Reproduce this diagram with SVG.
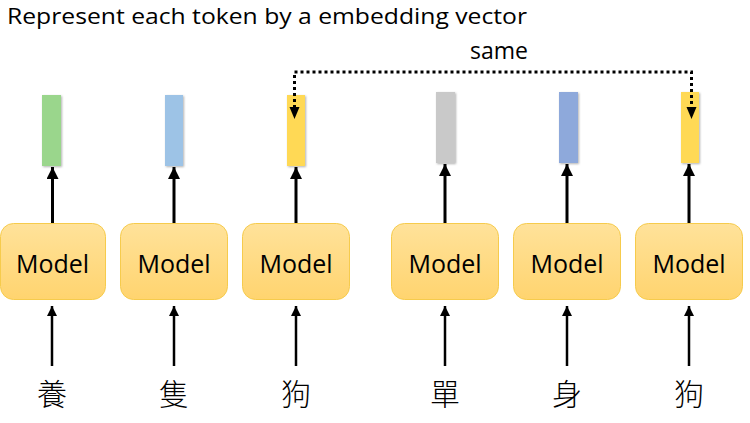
<svg xmlns="http://www.w3.org/2000/svg" width="750" height="423" viewBox="0 0 750 423">
<style>
.title{font-family:"Open Sans","Liberation Sans",sans-serif;font-size:22.5px;fill:#000}
.lbl{font-family:"Open Sans","Liberation Sans",sans-serif;font-size:23px;fill:#000;text-anchor:middle}
.box{fill:url(#g);stroke:#F6CB4C;stroke-width:1}
.mtext{font-family:"Open Sans","Liberation Sans",sans-serif;font-size:25px;fill:#000;text-anchor:middle}
.cjk{font-family:"Noto Sans CJK TC","Noto Sans CJK SC",sans-serif;font-size:30px;font-weight:300;fill:#000;text-anchor:middle}
.arr{stroke:#000;stroke-width:3;fill:none;marker-end:url(#ah)}
.arr2{stroke:#000;stroke-width:2.5;fill:none;marker-end:url(#ah)}
.dot{stroke:#000;stroke-width:3;fill:none;stroke-dasharray:3 3}
.vec{filter:url(#sh)}
</style>
<defs>
<linearGradient id="g" x1="0" y1="0" x2="0" y2="1">
<stop offset="0" stop-color="#FFE29A"/>
<stop offset="1" stop-color="#FFD46F"/>
</linearGradient>
<marker id="ah" viewBox="0 0 10 10" refX="10" refY="5" markerWidth="4" markerHeight="4" orient="auto" markerUnits="strokeWidth">
<path d="M0,0 L10,5 L0,10 z" fill="#000"/>
</marker>
<filter id="sh" x="-50%" y="-20%" width="200%" height="140%">
<feDropShadow dx="1" dy="1" stdDeviation="1" flood-color="#000" flood-opacity="0.3"/>
</filter>
</defs>
<text class="title" x="7" y="24" textLength="520" lengthAdjust="spacingAndGlyphs">Represent each token by a embedding vector</text>
<text class="lbl" x="499" y="59">same</text>

<g id="vectors">
<rect id="v1" class="vec" x="42" y="95" width="19" height="71" fill="#9AD68C"/>
<rect id="v2" class="vec" x="165" y="95" width="18" height="71" fill="#9DC3E6"/>
<rect id="v3" class="vec" x="287" y="95" width="18" height="71" fill="#FFD955"/>
<rect id="v4" class="vec" x="436" y="92" width="19" height="71" fill="#C9C9C9"/>
<rect id="v5" class="vec" x="559" y="92" width="19" height="71" fill="#8EA9DB"/>
<rect id="v6" class="vec" x="681" y="92" width="18" height="71" fill="#FFD955"/>
</g>

<g id="m1"><rect class="box" x="0.5" y="223.5" width="105" height="76" rx="13"/><text class="mtext" x="52.5" y="273">Model</text></g>
<g id="m2"><rect class="box" x="120.5" y="223.5" width="107" height="76" rx="13"/><text class="mtext" x="174" y="273">Model</text></g>
<g id="m3"><rect class="box" x="242.5" y="223.5" width="107" height="76" rx="13"/><text class="mtext" x="296" y="273">Model</text></g>
<g id="m4"><rect class="box" x="391.5" y="223.5" width="107" height="76" rx="13"/><text class="mtext" x="445" y="273">Model</text></g>
<g id="m5"><rect class="box" x="513.5" y="223.5" width="107" height="76" rx="13"/><text class="mtext" x="567" y="273">Model</text></g>
<g id="m6"><rect class="box" x="635.5" y="223.5" width="107" height="76" rx="13"/><text class="mtext" x="689" y="273">Model</text></g>

<g id="t1"><text class="cjk" x="52" y="405">養</text></g>
<g id="t2"><text class="cjk" x="174" y="405">隻</text></g>
<g id="t3"><text class="cjk" x="296" y="405">狗</text></g>
<g id="t4"><text class="cjk" x="445" y="405">單</text></g>
<g id="t5"><text class="cjk" x="567" y="405">身</text></g>
<g id="t6"><text class="cjk" x="689" y="405">狗</text></g>

<g id="connectors">
<line class="arr" x1="52.5" y1="223" x2="52.5" y2="167"/>
<line class="arr" x1="174" y1="223" x2="174" y2="167"/>
<line class="arr" x1="296" y1="223" x2="296" y2="167"/>
<line class="arr" x1="445" y1="223" x2="445" y2="164"/>
<line class="arr" x1="567" y1="223" x2="567" y2="164"/>
<line class="arr" x1="689" y1="223" x2="689" y2="164"/>

<line class="arr2" x1="52" y1="366" x2="52" y2="306"/>
<line class="arr2" x1="174" y1="366" x2="174" y2="306"/>
<line class="arr2" x1="296" y1="366" x2="296" y2="306"/>
<line class="arr2" x1="445" y1="366" x2="445" y2="306"/>
<line class="arr2" x1="567" y1="366" x2="567" y2="306"/>
<line class="arr2" x1="689" y1="366" x2="689" y2="306"/>

<path class="dot" d="M294.5,108 V72 H691.5 V108"/>
<path d="M289.5,107 L299.5,107 L294.5,119 z" fill="#000"/>
<path d="M686.5,107 L696.5,107 L691.5,119 z" fill="#000"/>
</g>
</svg>
